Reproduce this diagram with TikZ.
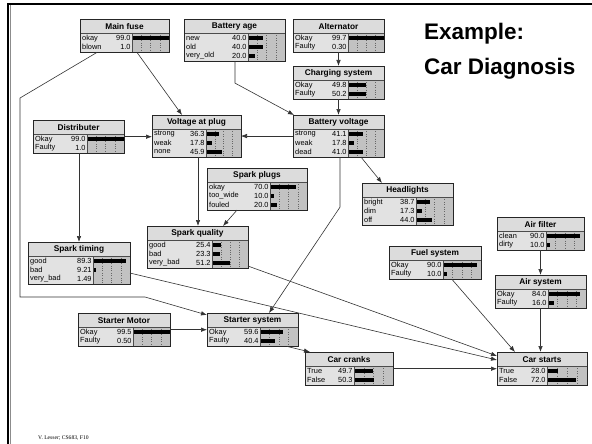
\documentclass[tikz,border=0pt]{standalone}
\usepackage{fontspec}
\setmainfont{Liberation Sans}
\newfontfamily\lessfont{Liberation Serif}
\usetikzlibrary{arrows.meta,calc}
\definecolor{titlefill}{HTML}{DCDCDC}
\definecolor{bodyfill}{HTML}{E2E2E2}
\definecolor{barfill}{HTML}{C2C2C2}
\tikzset{
  bnbox/.style={draw=black!85,line width=0.6pt,inner sep=0pt,outer sep=0pt},
  rowtext/.style={font=\fontsize{7.4}{7.4}\selectfont,inner sep=0pt},
  titletext/.style={font=\bfseries\fontsize{8.3}{8.3}\selectfont,inner sep=0pt},
  conn/.style={draw=black!80,line width=0.6pt,-{Latex[length=6pt,width=4.5pt]}},
}
\newcommand\BN[8]{%
  \pgfmathsetmacro\bnH{14+#7*8.7+2}%
  \begin{scope}[shift={(#2,#3)}]
    \fill[titlefill] (0,0) rectangle (#4,14);
    \fill[bodyfill] (0,14) rectangle (#5,\bnH);
    \fill[barfill] (#5,14) rectangle (#4,\bnH);
    \foreach \k in {1,2,3}
      \draw[dotted,black!60,line width=0.4pt] ({#5+\k*(#4-#5)/4},14) -- ({#5+\k*(#4-#5)/4},\bnH);
    \foreach \lab/\val [count=\i] in {#8} {
      \pgfmathsetmacro\ry{15+(\i-0.5)*8.7}
      \node[rowtext,anchor=west] at (2,\ry) {\lab};
      \node[rowtext,anchor=east] at (#5-1.2,\ry) {\val};
      \fill[black] (#5,\ry-2) rectangle ({#5+\val/100*(#4-#5)},\ry+2);
    }
    \draw[black!70,line width=0.5pt] (0,14) -- (#4,14) (#5,14) -- (#5,\bnH);
    \node[titletext] at (#4/2,7.5) {#6};
    \node[bnbox,minimum width=#4pt,minimum height=\bnH pt,anchor=north west] (#1) at (0,0) {};
  \end{scope}}
\begin{document}
\begin{tikzpicture}[x=1pt,y=-1pt]
\useasboundingbox (0,0) rectangle (592,444);
\fill[white] (0,0) rectangle (592,444);
% frame
\draw[black,line width=2.5pt] (8.2,444) -- (8.2,3.8) -- (592,3.8);
\draw[black!45,line width=0.6pt] (10,444) -- (10,5.5);
% heading
\node[anchor=base west,inner sep=0pt,font=\bfseries\fontsize{22.5}{22.5}\selectfont] (h1) at (424,40) {Example:};
\node[anchor=base west,inner sep=0pt,font=\bfseries\fontsize{22.5}{22.5}\selectfont] (h2) at (424,75) {Car Diagnosis};
\node[anchor=base west,inner sep=0pt,font=\lessfont\fontsize{5.6}{5.6}\selectfont] (foot) at (38,439) {V. Lesser; CS683, F10};
% nodes
\BN{mf}{80}{19}{89}{52}{Main fuse}{2}{okay/99.0,blown/1.0}
\BN{ba}{184}{19}{101}{64}{Battery age}{3}{new/40.0,old/40.0,very\_old/20.0}
\BN{al}{293}{19}{91}{55}{Alternator}{2}{Okay/99.7,Faulty/0.30}
\BN{cs}{293}{66}{91}{55}{Charging system}{2}{Okay/49.8,Faulty/50.2}
\BN{di}{33}{120}{91}{54}{Distributer}{2}{Okay/99.0,Faulty/1.0}
\BN{vp}{152}{115}{89}{54}{Voltage at plug}{3}{strong/36.3,weak/17.8,none/45.9}
\BN{bv}{293}{115}{91}{55}{Battery voltage}{3}{strong/41.1,weak/17.8,dead/41.0}
\BN{sp}{207}{168}{100}{63}{Spark plugs}{3}{okay/70.0,too\_wide/10.0,fouled/20.0}
\BN{hl}{362}{183}{91}{54}{Headlights}{3}{bright/38.7,dim/17.3,off/44.0}
\BN{sti}{28}{242}{102}{65}{Spark timing}{3}{good/89.3,bad/9.21,very\_bad/1.49}
\BN{sq}{147}{226}{101}{65}{Spark quality}{3}{good/25.4,bad/23.3,very\_bad/51.2}
\BN{fs}{389}{246}{92}{54}{Fuel system}{2}{Okay/90.0,Faulty/10.0}
\BN{af}{497}{217}{87}{49}{Air filter}{2}{clean/90.0,dirty/10.0}
\BN{as}{495}{275}{91}{53}{Air system}{2}{Okay/84.0,Faulty/16.0}
\BN{sm}{78}{313}{92}{55}{Starter Motor}{2}{Okay/99.5,Faulty/0.50}
\BN{sst}{207}{313}{91}{53}{Starter system}{2}{Okay/59.6,Faulty/40.4}
\BN{cc}{305}{352}{88}{49}{Car cranks}{2}{True/49.7,False/50.3}
\BN{cst}{497}{352}{90}{50}{Car starts}{2}{True/28.0,False/72.0}
% connectors
\draw[conn] ([xshift=57pt]mf.south west) -- ([xshift=30pt]vp.north west);
\draw[conn] ([xshift=17pt]mf.south west) -- (20,98) -- (20,297) -- (145,297) -- ([yshift=-2pt]sst.north west);
\draw[conn] ([xshift=51pt]ba.south west) -- ++(0,22) -- ([xshift=1pt]bv.north west);
\draw[conn] (al.south) -- (cs.north);
\draw[conn] (cs.south) -- (bv.north);
\draw[conn] (bv.west) -- (vp.east);
\draw[conn] (di.east) -- (di.east -| vp.west);
\draw[conn] ([xshift=68pt]bv.south west) -- ([xshift=20pt]hl.north west);
\draw[conn] ([xshift=47pt]bv.south west) -- ++(0,50) -- ([xshift=62pt]sst.north west);
\draw[conn] ([xshift=46pt]vp.south west) -- ([xshift=51pt]sq.north west);
\draw[conn] ([xshift=30pt]sp.south west) -- ([xshift=76pt]sq.north west);
\draw[conn] ([xshift=46pt]di.south west) -- ([xshift=51pt]sti.north west);
\draw[conn] ([yshift=-10pt]sti.east) -- ([yshift=-8pt]cst.north west);
\draw[conn] ([yshift=-19pt]sq.east) -- ([yshift=-4pt]cst.north west);
\draw[conn] ([xshift=63pt]fs.south west) -- ([xshift=18pt]cst.north west);
\draw[conn] (as.south) -- (as.south |- cst.north);
\draw[conn] (af.south) -- (as.north);
\draw[conn] (sm.east) -- (sm.east -| sst.west);
\draw[conn] ([xshift=80pt]sst.south west) -- ([xshift=5pt]cc.north west);
\draw[conn] (cc.east) -- (cc.east -| cst.west);
\end{tikzpicture}
\end{document}
